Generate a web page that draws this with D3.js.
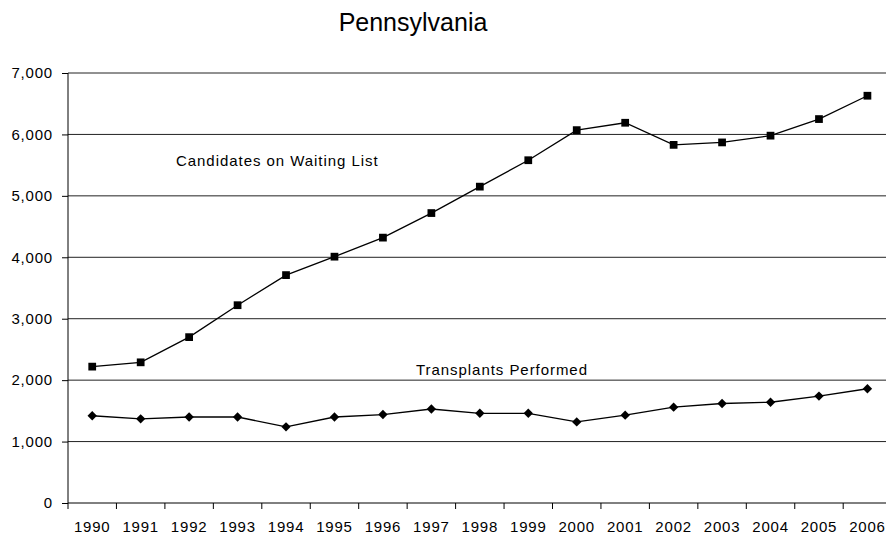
<!DOCTYPE html>
<html>
<head>
<meta charset="utf-8">
<script src="https://cdn.jsdelivr.net/npm/d3@7"></script>
<style>
  body { margin: 0; background: #fff; overflow: hidden; }
  svg { display: block; font-family: "Liberation Sans", Arial, sans-serif; }
</style>
</head>
<body>
<div id="chart"></div>
<script>
var years = ['1990', '1991', '1992', '1993', '1994', '1995', '1996', '1997', '1998',
  '1999', '2000', '2001', '2002', '2003', '2004', '2005', '2006'];
var waitingList = [2220, 2290, 2700, 3220, 3710, 4010, 4320, 4720, 5150,
  5580, 6070, 6190, 5830, 5870, 5980, 6250, 6630];
var transplants = [1420, 1370, 1400, 1400, 1240, 1400, 1440, 1530, 1460,
  1460, 1320, 1430, 1560, 1620, 1640, 1740, 1860];
var yTicks = [0, 1000, 2000, 3000, 4000, 5000, 6000, 7000];

var w = 886,
h = 535,
plotLeft = 68,
plotTop = 73,
plotBottom = 503,
band = 48.45;

var svg = d3.select('#chart').
append('svg').
attr('width', w).
attr('height', h);

var x = d3.scaleBand().
domain(years).
range([plotLeft, plotLeft + band * years.length]);

var y = d3.scaleLinear().
domain([0, 7000]).
range([plotBottom, plotTop]);

var cx = d => x(d) + x.bandwidth() / 2;

// title
svg.append('text').
attr('x', 413).
attr('y', 31).
attr('text-anchor', 'middle').
style('font-size', '25px').
text('Pennsylvania');

// horizontal gridlines
svg.append('g').
selectAll('line').
data(yTicks.filter(d => d > 0)).
enter().
append('line').
attr('x1', plotLeft).
attr('x2', w).
attr('y1', d => y(d)).
attr('y2', d => y(d)).
attr('stroke', '#222').
attr('stroke-width', 1);

// y axis
var yAxis = svg.append('g').
attr('transform', 'translate(' + plotLeft + ',0)').
call(d3.axisLeft(y).tickValues(yTicks).tickSize(6).tickPadding(9).tickFormat(d3.format(',')));
yAxis.select('.domain').attr('d', 'M0,' + plotTop + 'V' + plotBottom);
yAxis.selectAll('text').
style('font-size', '15px').
style('letter-spacing', '0.8px').
attr('fill', '#000');

// x axis: labels centred in each band, tick marks on band edges
var xAxis = svg.append('g').
attr('transform', 'translate(0,' + plotBottom + ')').
call(d3.axisBottom(x).tickSize(6).tickPadding(12));
xAxis.select('.domain').attr('d', 'M' + plotLeft + ',0H' + w);
xAxis.selectAll('.tick line').attr('transform', 'translate(' + -x.bandwidth() / 2 + ',0)');
xAxis.selectAll('text').
style('font-size', '15px').
style('letter-spacing', '0.8px').
attr('fill', '#000');

var line = d3.line().
x((d, i) => cx(years[i])).
y(d => y(d));

svg.append('path').
datum(waitingList).
attr('d', line).
attr('fill', 'none').
attr('stroke', '#000').
attr('stroke-width', 1.3);

svg.append('path').
datum(transplants).
attr('d', line).
attr('fill', 'none').
attr('stroke', '#000').
attr('stroke-width', 1.3);

svg.append('g').
selectAll('path').
data(waitingList).
enter().
append('path').
attr('d', d3.symbol().type(d3.symbolSquare).size(60)).
attr('transform', (d, i) => 'translate(' + cx(years[i]) + ',' + y(d) + ')').
attr('fill', '#000');

svg.append('g').
selectAll('path').
data(transplants).
enter().
append('path').
attr('d', d3.symbol().type(d3.symbolSquare).size(44)).
attr('transform', (d, i) => 'translate(' + cx(years[i]) + ',' + y(d) + ') rotate(45)').
attr('fill', '#000');

// series labels
svg.append('text').
attr('x', 176).
attr('y', 166).
style('font-size', '15px').
style('letter-spacing', '0.95px').
text('Candidates on Waiting List');

svg.append('text').
attr('x', 416).
attr('y', 375).
style('font-size', '15px').
style('letter-spacing', '0.95px').
text('Transplants Performed');
</script>
</body>
</html>
